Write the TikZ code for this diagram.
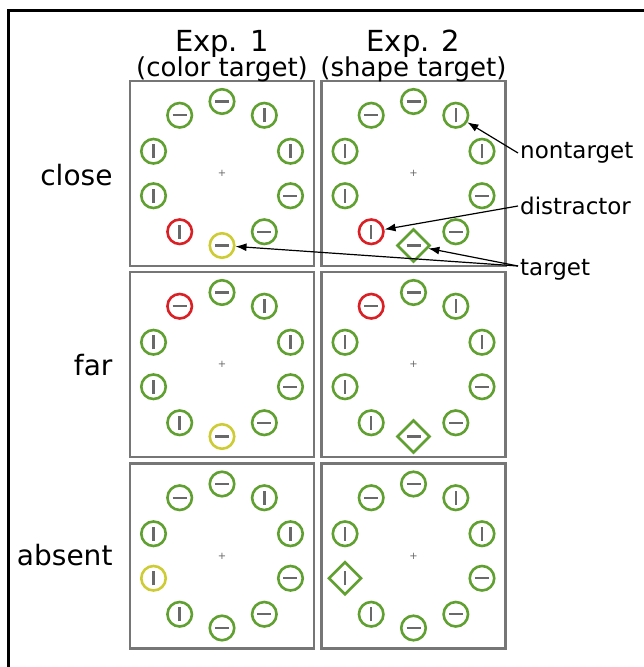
\documentclass[tikz,border=0pt]{standalone}
\usepackage{fontspec}
\setmainfont{DejaVu Sans}
\usetikzlibrary{shapes.geometric,arrows.meta}
\definecolor{stimgreen}{RGB}{96,160,48}
\definecolor{stimred}{RGB}{218,32,36}
\definecolor{stimyellow}{RGB}{206,204,52}
\definecolor{bargray}{RGB}{105,105,105}
\definecolor{framegray}{RGB}{118,118,118}
\newcommand{\stimH}{\textcolor{bargray}{\rule{14pt}{2.4pt}}}
\newcommand{\stimV}{\textcolor{bargray}{\rule{2.4pt}{14pt}}}
\newcommand{\stimring}[2]{%
  \begin{scope}[shift={(#1)}]
    \foreach \s/\m [count=\i from 0] in {#2}
      \node [\s] (#1-\i) at (270-36*\i:72) {\m};
  \end{scope}}
\tikzset{
 panel/.style
  = {rectangle, draw=framegray, line width=2.5pt, minimum width=184pt,
     minimum height=185pt, inner sep=0pt, text=gray!80!black,
     font=\fontsize{10}{10}\selectfont},
 stim/.style
  = {circle, draw, line width=2.6pt, minimum size=24.5pt, inner sep=0pt},
 gr/.style = {stim, draw=stimgreen},
 rd/.style = {stim, draw=stimred},
 yl/.style = {stim, draw=stimyellow},
 dm/.style
  = {diamond, draw=stimgreen, line width=2.6pt, minimum size=33pt, inner sep=0pt},
 head/.style = {font=\fontsize{29}{29}\selectfont},
 subhead/.style = {font=\fontsize{26}{26}\selectfont},
 rowlabel/.style = {anchor=east, font=\fontsize{28}{28}\selectfont},
 note/.style = {anchor=west, inner sep=2pt, font=\fontsize{23}{23}\selectfont},
 arrow/.style = {draw, line width=1.2pt, -{Latex[length=11pt,width=8pt]}},
}
\begin{document}
\begin{tikzpicture}[x=1pt, y=-1pt]
    \useasboundingbox (0,0) rectangle (644,667);
    \draw [line width=3pt] (8,667) -- (8,10) -- (644,10);

    \node [panel] (p11) at (222,173.5) {+};
    \node [panel] (p12) at (413.5,173.5) {+};
    \node [panel] (p21) at (222,364.5) {+};
    \node [panel] (p22) at (413.5,364.5) {+};
    \node [panel] (p31) at (222,556) {+};
    \node [panel] (p32) at (413.5,556) {+};

    \node [head] (exp1) at (222,44) {Exp. 1};
    \node [subhead] (exp1sub) at (222,69) {(color target)};
    \node [head] (exp2) at (413.5,44) {Exp. 2};
    \node [subhead] (exp2sub) at (413.5,69) {(shape target)};

    \node [rowlabel] (close) at (116,175) {close};
    \node [rowlabel] (far) at (116,365) {far};
    \node [rowlabel] (absent) at (116,555) {absent};

    % ring of stimuli, counter-clockwise from the top
    \stimring{p11}{gr/\stimH, gr/\stimH, gr/\stimV, gr/\stimV, rd/\stimV,
                   yl/\stimH, gr/\stimH, gr/\stimH, gr/\stimV, gr/\stimV}
    \stimring{p12}{gr/\stimH, gr/\stimH, gr/\stimV, gr/\stimV, rd/\stimV,
                   dm/\stimH, gr/\stimH, gr/\stimH, gr/\stimV, gr/\stimV}
    \stimring{p21}{gr/\stimH, rd/\stimH, gr/\stimV, gr/\stimV, gr/\stimV,
                   yl/\stimH, gr/\stimH, gr/\stimH, gr/\stimV, gr/\stimV}
    \stimring{p22}{gr/\stimH, rd/\stimH, gr/\stimV, gr/\stimV, gr/\stimV,
                   dm/\stimH, gr/\stimH, gr/\stimH, gr/\stimV, gr/\stimV}
    \stimring{p31}{gr/\stimH, gr/\stimH, gr/\stimV, yl/\stimV, gr/\stimV,
                   gr/\stimH, gr/\stimH, gr/\stimH, gr/\stimV, gr/\stimV}
    \stimring{p32}{gr/\stimH, gr/\stimH, gr/\stimV, dm/\stimV, gr/\stimV,
                   gr/\stimH, gr/\stimH, gr/\stimH, gr/\stimV, gr/\stimV}

    \node [note] (nontarget) at (518,153) {nontarget};
    \node [note] (distractor) at (518,206) {distractor};
    \node [note] (target) at (518,270) {target};

    \path [arrow] (nontarget.west) -- (p12-9);
    \path [arrow] (distractor.west) -- (p12-4);
    \path [arrow] ([yshift=4pt]target.west) -- (p12-5);
    \path [arrow] ([yshift=4pt]target.west) -- (p11-5);
\end{tikzpicture}
\end{document}
